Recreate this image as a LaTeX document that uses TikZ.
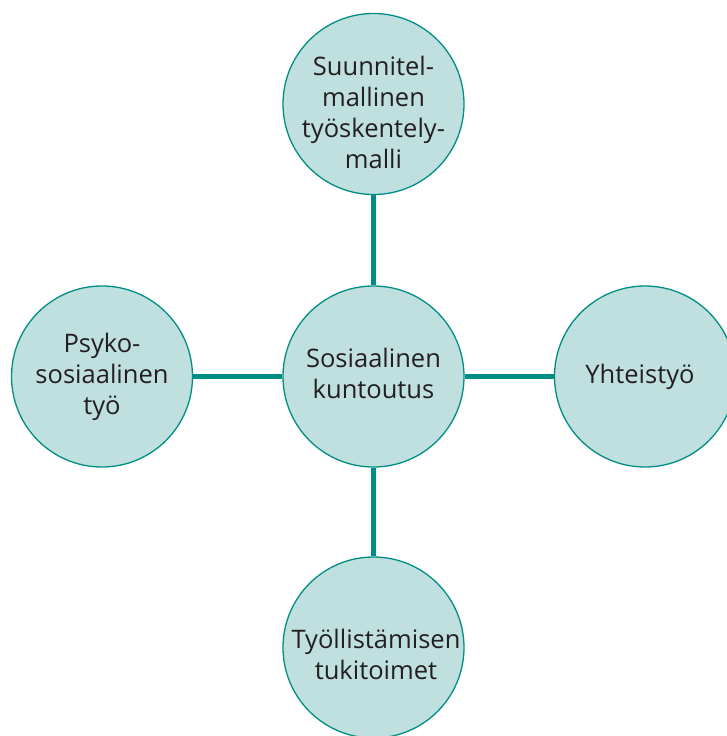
\documentclass[tikz,border=0pt]{standalone}
\usepackage{fontspec}
\setmainfont{Open Sans}
\definecolor{bubfill}{RGB}{192,224,223}
\definecolor{teal2}{RGB}{0,142,132}
\definecolor{ink}{RGB}{35,31,32}
\begin{document}
\begin{tikzpicture}[x=1pt,y=-1pt,
  bub/.style={circle,draw=teal2,line width=1.3pt,fill=bubfill,minimum size=181pt,inner sep=0pt},
  txt/.style={align=center,text=ink,font=\fontsize{25.5}{31}\selectfont,inner sep=0pt},
  conn/.style={draw=teal2,line width=5pt}]
\useasboundingbox (0,0) rectangle (727,736);
\clip (0,0) rectangle (727,736);
\node[bub] (c) at (373.5,376.5) {};
\node[bub] (t) at (373.5,104) {};
\node[bub] (l) at (102,376.5) {};
\node[bub] (r) at (645,376.5) {};
\node[bub] (b) at (373.5,647.5) {};
\draw[conn] (t) -- (c);
\draw[conn] (l) -- (c);
\draw[conn] (r) -- (c);
\draw[conn] (b) -- (c);
\node[txt] (ct) at (373.5,373) {Sosiaalinen\\kuntoutus};
\node[txt] (tt) at (373.5,112) {Suunnitel-\\mallinen\\työskentely-\\malli};
\node[txt] (lt) at (102,376.5) {Psyko-\\sosiaalinen\\työ};
\node[txt] (rt) at (640,376.5) {Yhteistyö};
\node[txt] (bt) at (376,654) {Työllistämisen\\tukitoimet};
\end{tikzpicture}
\end{document}
